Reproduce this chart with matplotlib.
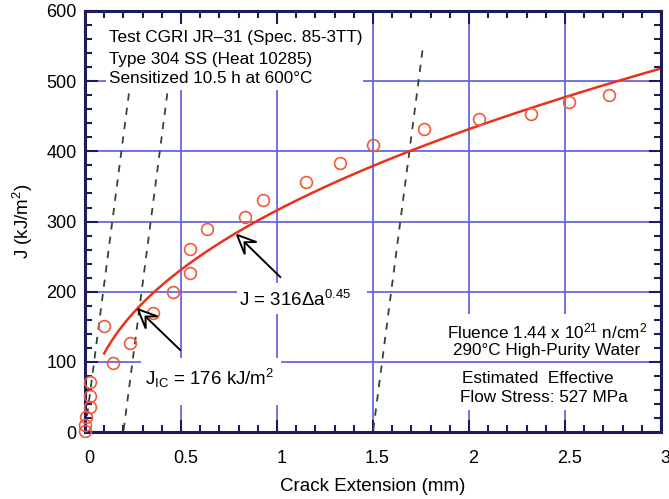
import numpy as np
import matplotlib
matplotlib.use("Agg")
import matplotlib.pyplot as plt
from matplotlib.patches import Rectangle, Polygon
from matplotlib.transforms import ScaledTranslation

plt.rcParams['font.family'] = ['Liberation Sans', 'DejaVu Sans']
plt.rcParams['mathtext.fontset'] = 'custom'
plt.rcParams['mathtext.rm'] = 'Liberation Sans'
plt.rcParams['mathtext.it'] = 'Liberation Sans:italic'
plt.rcParams['mathtext.default'] = 'regular'

# ---- data ----
da = [0.0, 0.0, 0.008, 0.024, 0.028, 0.028, 0.146, 0.10, 0.236, 0.354, 0.456,
      0.548, 0.549, 0.634, 0.835, 0.927, 1.151, 1.326, 1.50, 1.767, 2.054,
      2.321, 2.522, 2.731]
J = [2, 10, 21, 36, 52, 71, 98, 151, 127, 170, 199,
     227, 261, 289, 306, 331, 356, 384, 409, 432, 446,
     453, 470, 480]

fit_C = 316.0
fit_n = 0.45
fit_start = 0.1
fit_end = 3.0

flow_stress = 527.0          # MPa
blunt_slope = 4 * flow_stress  # kJ/m^2 per mm
offsets = [0.0, 0.2, 1.5]
offset_Jtop = [490, 490, 545]

xticks = [0, 0.5, 1, 1.5, 2, 2.5, 3]
xticklabels = ["0", "0.5", "1", "1.5", "2", "2.5", "3"]
yticks = [0, 100, 200, 300, 400, 500, 600]

fig = plt.figure(figsize=(6.69, 4.99), dpi=100)
ax = fig.add_axes([0.127, 0.134, 0.861, 0.844])
ax.set_xlim(0, 3)
ax.set_ylim(0, 600)

gridc = '#5a5ae0'
for xv in xticks[1:-1]:
    ax.axvline(xv, color=gridc, lw=1.2, zorder=0.5)
for yv in yticks[1:-1]:
    ax.axhline(yv, color=gridc, lw=1.2, zorder=0.7)

# masks behind texts
ax.add_patch(Rectangle((1.9, 31), 1.03, 138, facecolor='white', edgecolor='none', zorder=0.6))
ax.add_patch(Rectangle((0.11, 488), 1.34, 112, facecolor='white', edgecolor='none', zorder=0.8))
ax.add_patch(Rectangle((0.79, 169), 0.68, 43, facecolor='white', edgecolor='none', zorder=0.8))
ax.add_patch(Rectangle((0.29, 38), 0.73, 67, facecolor='white', edgecolor='none', zorder=0.8))

# offset / blunting lines
for off, jt in zip(offsets, offset_Jtop):
    jj = np.array([3.0, jt])
    xx = off + jj / blunt_slope
    ax.plot(xx, jj, color='#2b4a2b', lw=1.3, ls=(0, (4, 4)), zorder=2)

# power-law fit
xf = np.linspace(fit_start, fit_end, 300)
ax.plot(xf, fit_C * xf ** fit_n, color='#e8321a', lw=1.8, zorder=3)

# data points
ax.plot(da, J, ls='none', marker='o', ms=8.5, mfc='none', mec='#ee5a3a', mew=1.2,
        zorder=4, clip_on=False)

# hollow notched arrows
def hollow_arrow(tip, tail, L=19, W=17, notch=0.55):
    tr = ax.transData
    T = tr.transform(tip)
    S = tr.transform(tail)
    u = (T - S) / np.linalg.norm(T - S)
    p = np.array([-u[1], u[0]])
    b1 = T - L * u + W / 2 * p
    b2 = T - L * u - W / 2 * p
    N = T - notch * L * u
    inv = tr.inverted()
    pts = inv.transform(np.array([T, b1, N, b2]))
    Nd = inv.transform(N)
    ax.plot([tail[0], Nd[0]], [tail[1], Nd[1]], color='black', lw=1.4, zorder=5)
    ax.add_patch(Polygon(pts, closed=True, facecolor='white', edgecolor='black',
                         lw=1.4, zorder=5, joinstyle='miter'))

hollow_arrow((0.792, 281), (1.017, 221))
hollow_arrow((0.276, 175), (0.496, 117))

# texts
tl = dict(fontsize=12.3, va='center', ha='left', zorder=6)
ax.text(0.127, 562, "Test CGRI JR\u201331 (Spec. 85-3TT)", **tl)
ax.text(0.127, 531, "Type 304 SS (Heat 10285)", **tl)
ax.text(0.127, 504, "Sensitized 10.5 h at 600\u00b0C", **tl)

ax.text(0.80, 188, "J = 316\u0394a$^{0.45}$", fontsize=13.5, va='center', ha='left', zorder=6)
ax.text(0.314, 77, "J$_{IC}$ = 176 kJ/m$^{2}$", fontsize=13.5, va='center', ha='left', zorder=6)

rt = dict(fontsize=12.3, va='center', ha='center', zorder=6)
ax.text(2.405, 143, "Fluence 1.44 x 10$^{21}$ n/cm$^{2}$", **rt)
ax.text(2.405, 117, "290\u00b0C High-Purity Water", **rt)
ax.text(2.36, 77, "Estimated  Effective", **rt)
ax.text(2.39, 50, "Flow Stress: 527 MPa", **rt)

# axes styling
spc = '#1c1c5c'
for s in ax.spines.values():
    s.set_color(spc)
    s.set_linewidth(2.2)
    s.set_zorder(3.5)
ax.set_xticks(xticks)
ax.set_xticklabels(xticklabels)
ax.set_yticks(yticks)
ax.set_xticks(np.arange(0, 3.001, 0.1), minor=True)
ax.set_yticks(np.arange(0, 601, 20), minor=True)
ax.tick_params(which='both', direction='in', top=True, right=True, color=spc,
               labelsize=13, width=1.5)
ax.tick_params(which='major', length=9)
ax.tick_params(which='minor', length=5)
ax.tick_params(axis='x', which='major', pad=13)
ax.tick_params(axis='y', which='major', pad=6)
shift = ScaledTranslation(0.045, 0, fig.dpi_scale_trans)
for lab in ax.get_xticklabels():
    lab.set_transform(lab.get_transform() + shift)
ax.set_xlabel("Crack Extension (mm)", fontsize=13.5, labelpad=8)
ax.set_ylabel("J (kJ/m$^{2}$)", fontsize=13.5, labelpad=8)

fig.savefig("out.png", dpi=100)
